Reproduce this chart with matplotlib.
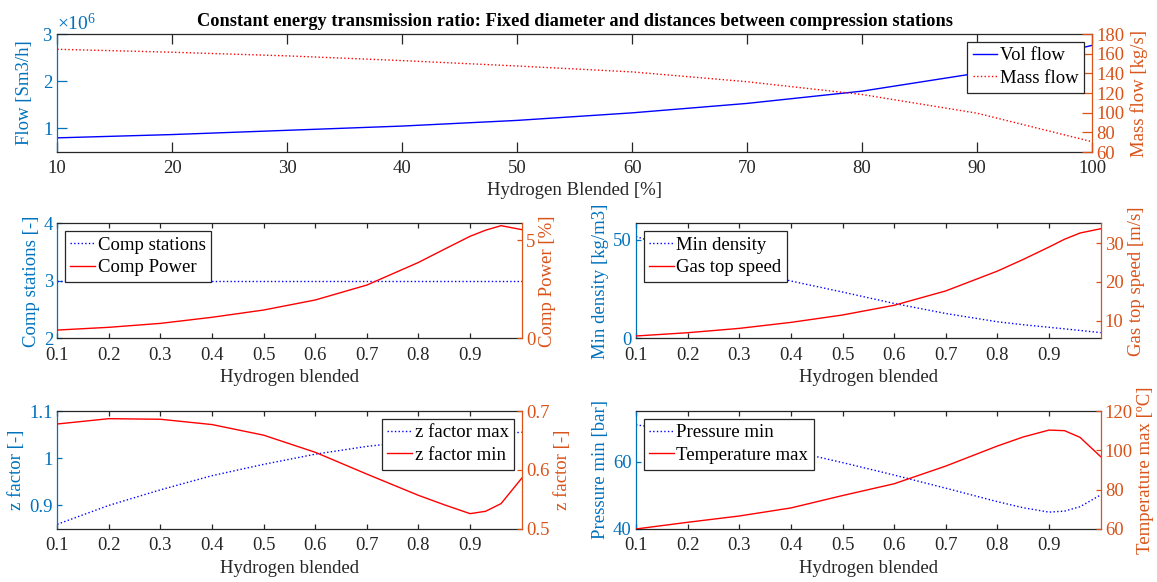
import numpy as np
import matplotlib
matplotlib.use("Agg")
import matplotlib.pyplot as plt
from matplotlib.ticker import ScalarFormatter, FormatStrFormatter

# Fuentes y colores estilo MATLAB (yyaxis)
plt.rcParams['font.family'] = ['Liberation Serif', 'DejaVu Serif']
plt.rcParams['mathtext.fontset'] = 'custom'
plt.rcParams['mathtext.rm'] = 'Liberation Serif'
plt.rcParams['font.size'] = 13.5

c_izq = '#0072BD'
c_der = '#D95319'
c_caja = '#262626'

# ---- Datos del grafico superior ----
h_pct = [10, 20, 30, 40, 50, 60, 70, 80, 90, 100]
vol_flow = [0.80e6, 0.87e6, 0.96e6, 1.05e6, 1.17e6, 1.33e6, 1.53e6, 1.79e6, 2.17e6, 2.76e6]
mass_flow = [164.5, 161.5, 157.8, 153.0, 147.5, 141.5, 131.5, 118.5, 99.5, 70.5]

# ---- Datos de los graficos inferiores ----
h_frac = [0.1, 0.2, 0.3, 0.4, 0.5, 0.6, 0.7, 0.8, 0.85, 0.9, 0.93, 0.96, 1.0]
comp_stations = [3, 3, 3, 3, 3, 3, 3, 3, 3, 3, 3, 3, 3]
comp_power = [0.42, 0.56, 0.76, 1.07, 1.44, 1.95, 2.71, 3.86, 4.53, 5.19, 5.50, 5.73, 5.53]
min_density = [51.7, 43.3, 35.6, 29.1, 23.5, 17.7, 12.6, 8.4, 6.9, 5.6, 4.8, 4.0, 2.9]
gas_speed = [6.1, 6.94, 8.06, 9.6, 11.5, 14.0, 17.7, 22.8, 25.8, 29.0, 31.0, 32.6, 33.7]
z_max = [0.860, 0.900, 0.933, 0.963, 0.987, 1.0085, 1.025, 1.037, 1.042, 1.047, 1.050, 1.052, 1.055]
z_min = [0.678, 0.687, 0.686, 0.677, 0.659, 0.630, 0.593, 0.557, 0.541, 0.526, 0.530, 0.543, 0.586]
p_min = [70.9, 68.7, 66.1, 63.2, 59.7, 56.0, 52.1, 48.1, 46.3, 45.0, 45.3, 46.6, 50.1]
t_max = [60.0, 63.4, 66.6, 70.7, 77.0, 83.0, 92.0, 102.2, 106.8, 110.3, 110.0, 106.6, 96.8]

fig = plt.figure(figsize=(11.57, 5.82), dpi=100)


def preparar(ax, largo):
    # ejes gemelos con el estilo de yyaxis
    ax2 = ax.twinx()
    for s in ['top', 'bottom']:
        ax.spines[s].set_color(c_caja)
        ax.spines[s].set_linewidth(0.9)
        ax2.spines[s].set_visible(False)
    ax.spines['left'].set_color(c_izq)
    ax.spines['left'].set_linewidth(0.9)
    ax.spines['right'].set_visible(False)
    ax2.spines['left'].set_visible(False)
    ax2.spines['right'].set_color(c_der)
    ax2.spines['right'].set_linewidth(0.9)
    ax.tick_params(axis='x', direction='in', top=True, length=largo, width=0.9,
                   color=c_caja, labelcolor=c_caja, pad=6)
    ax.tick_params(axis='y', direction='in', right=False, length=largo, width=0.9,
                   color=c_izq, labelcolor=c_izq, pad=3)
    ax2.tick_params(axis='y', direction='in', length=largo, width=0.9,
                    color=c_der, labelcolor=c_der, pad=3)
    return ax2


def leyenda(ax, ax2, loc):
    h1, l1 = ax.get_legend_handles_labels()
    h2, l2 = ax2.get_legend_handles_labels()
    lg = ax2.legend(h1 + h2, l1 + l2, loc=loc, fancybox=False, framealpha=1,
                    edgecolor=c_caja, handlelength=1.3, handletextpad=0.15,
                    borderpad=0.3, labelspacing=0.3, borderaxespad=0.4)
    lg.get_frame().set_linewidth(0.9)


# ---- Grafico superior ----
ax = fig.add_axes([0.0495, 0.7388, 0.8943, 0.2027])
ax2 = preparar(ax, 7.2)
ax.plot(h_pct, vol_flow, '-', color='#0000FF', lw=1.0, label='Vol flow')
ax2.plot(h_pct, mass_flow, ':', color='#FF0000', lw=1.0, label='Mass flow')
ax.set_xlim(10, 100)
ax.set_xticks(range(10, 101, 10))
ax.set_ylim(0.5e6, 3e6)
ax.set_yticks([1e6, 2e6, 3e6])
fmt = ScalarFormatter(useMathText=True)
fmt.set_powerlimits((0, 0))
ax.yaxis.set_major_formatter(fmt)
ax.yaxis.get_offset_text().set_color(c_izq)
ax.yaxis.get_offset_text().set_fontsize(14)
ax2.set_ylim(60, 180)
ax2.set_yticks(range(60, 181, 20))
ax.set_xlabel('Hydrogen Blended [%]', color=c_caja, labelpad=3)
ax.set_ylabel('Flow [Sm3/h]', color=c_izq, labelpad=7)
ax2.set_ylabel('Mass flow [kg/s]', color=c_der, labelpad=4)
ax.set_title('Constant energy transmission ratio: Fixed diameter and distances between compression stations',
             fontweight='bold', fontsize=13.2, color='black', pad=6, x=0.5)
leyenda(ax, ax2, 'upper right')

# ---- Graficos inferiores ----
pos = [[0.0495, 0.4187, 0.4014, 0.1976],
       [0.5497, 0.4187, 0.4016, 0.1976],
       [0.0495, 0.0911, 0.4014, 0.2027],
       [0.5497, 0.0911, 0.4016, 0.2027]]

paneles = [
    (comp_stations, 'Comp stations', comp_power, 'Comp Power',
     'Comp stations [-]', 'Comp Power [%]', (2, 4), [2, 3, 4], (0, 5.85), [0, 5], 'upper left'),
    (min_density, 'Min density', gas_speed, 'Gas top speed',
     'Min density [kg/m3]', 'Gas top speed [m/s]', (0, 58.4), [0, 50], (5.5, 35.1), [10, 20, 30], 'upper left'),
    (z_max, 'z factor max', z_min, 'z factor min',
     'z factor [-]', 'z factor [-]', (0.85, 1.1), [0.9, 1.0, 1.1], (0.5, 0.7), [0.5, 0.6, 0.7], 'upper right'),
    (p_min, 'Pressure min', t_max, 'Temperature max',
     'Pressure min [bar]', 'Temperature max [ºC]', (40, 75), [40, 60], (60, 120), [60, 80, 100, 120], 'upper left'),
]

for p, (y1, n1, y2, n2, lab1, lab2, lim1, tk1, lim2, tk2, loc) in zip(pos, paneles):
    ax = fig.add_axes(p)
    ax2 = preparar(ax, 3.3)
    ax.plot(h_frac, y1, ':', color='#0000FF', lw=1.0, label=n1)
    ax2.plot(h_frac, y2, '-', color='#FF0000', lw=1.0, label=n2)
    ax.set_xlim(0.1, 1.0)
    ax.set_xticks([0.1, 0.2, 0.3, 0.4, 0.5, 0.6, 0.7, 0.8, 0.9])
    ax.xaxis.set_major_formatter(FormatStrFormatter('%g'))
    ax.set_ylim(*lim1)
    ax.set_yticks(tk1)
    ax.yaxis.set_major_formatter(FormatStrFormatter('%g'))
    ax2.set_ylim(*lim2)
    ax2.set_yticks(tk2)
    ax2.yaxis.set_major_formatter(FormatStrFormatter('%g'))
    ax.set_xlabel('Hydrogen blended', color=c_caja, labelpad=4)
    ax.set_ylabel(lab1, color=c_izq, labelpad=3)
    ax2.set_ylabel(lab2, color=c_der, labelpad=3)
    leyenda(ax, ax2, loc)

fig.savefig('out.png', dpi=100)
